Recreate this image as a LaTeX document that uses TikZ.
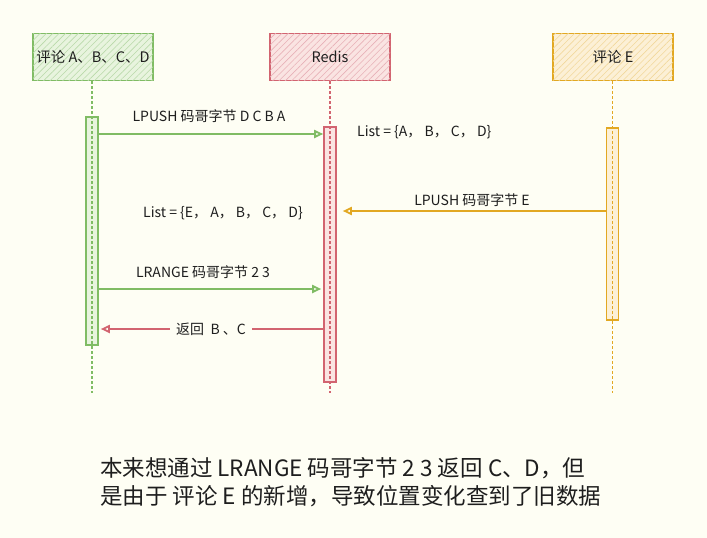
\documentclass[tikz,border=0pt]{standalone}
\usepackage{fontspec}
\setmainfont{Noto Sans CJK SC}
\usetikzlibrary{positioning,arrows.meta,patterns.meta}
\definecolor{BG}{RGB}{254,254,244}
\definecolor{Gb}{RGB}{128,188,100}
\definecolor{Gf}{RGB}{232,244,222}
\definecolor{Rb}{RGB}{210,100,112}
\definecolor{Rf}{RGB}{250,228,226}
\definecolor{Yb}{RGB}{226,168,34}
\definecolor{Yf}{RGB}{252,240,214}
\definecolor{Tx}{RGB}{30,30,30}

\begin{document}
\begin{tikzpicture}[x=1pt, y=-1pt,
  actor/.style = {
    rectangle, line width=1.8pt,
    minimum width=120pt, minimum height=47pt,
    text=Tx, font=\fontsize{14.5}{16}\selectfont
  },
  hatch/.style = {
    postaction={pattern={Lines[angle=45,distance=4.5pt,line width=0.6pt]},
                pattern color=#1}
  },
  actbar/.style = {
    rectangle, line width=1.6pt, minimum width=12pt, inner sep=0pt
  },
  life/.style = {line width=1.4pt, dash pattern=on 3pt off 2pt},
  msg/.style = {-{Triangle[open,length=9pt,width=8pt]}, line width=1.8pt},
  lbl/.style = {text=Tx, font=\fontsize{14}{16}\selectfont, inner sep=2pt}
]
\useasboundingbox[fill=BG] (0,0) rectangle (707,538);

%% ---------- Participants ----------
\node[actor, draw=Gb, fill=Gf, hatch=Gb!55] (cli)   at (93,57)  {评论 A、B、C、D};
\node[actor, draw=Rb, fill=Rf, hatch=Rb!50] (redis) at (330,57) {Redis};
\node[actor, draw=Yb, fill=Yf, hatch=Yb!45] (cliE)  at (613,57) {评论 E};

%% ---------- Activation bars ----------
\node[actbar, draw=Gb, fill=Gf, minimum height=228pt] (actA) at (92,231)    {};
\node[actbar, draw=Rb, fill=Rf, minimum height=255pt] (actR) at (330,254.5) {};
\node[actbar, draw=Yb, fill=Yf, minimum height=192pt] (actE) at (612.5,224) {};

%% ---------- Lifelines ----------
\coordinate (endA) at (92,393);
\coordinate (endR) at (330,393);
\coordinate (endE) at (612.5,393);
\draw[life, Gb] (cli.south -| endA)   -- (endA);
\draw[life, Rb] (redis.south -| endR) -- (endR);
\draw[life, Yb] (cliE.south -| endE)  -- (endE);

%% ---------- Messages ----------
\coordinate (m1) at (0,134);
\coordinate (m2) at (0,211);
\coordinate (m3) at (0,289);
\coordinate (m4) at (0,329);

\draw[msg, Gb] (actA.east |- m1) -- (actR.west |- m1);
\node[lbl] (l1) at (209,116) {LPUSH 码哥字节 D C B A};
\node[lbl, anchor=west] (s1) at (355,132) {List =\ \{A，\ B，\ C，\ D\}};

\draw[msg, Yb, shorten >=6pt] (actE.west |- m2) -- (actR.east |- m2);
\node[lbl] (l2) at (472,200) {LPUSH 码哥字节 E};
\node[lbl, anchor=west] (s2) at (141,213) {List =\ \{E，\ A，\ B，\ C，\ D\}};

\draw[msg, Gb, shorten >=2pt] (actA.east |- m3) -- (actR.west |- m3);
\node[lbl] (l3) at (203,272) {LRANGE 码哥字节 2 3};

\draw[msg, Rb, shorten >=2pt] (actR.west |- m4) -- (actA.east |- m4)
  node[lbl, midway, fill=BG, inner xsep=6pt] (l4) {返回\ \ B 、C};

%% ---------- Note ----------
\node[anchor=north west, align=left, text=Tx, inner sep=0pt,
      font=\fontsize{22.5}{28}\selectfont] (note) at (100,457)
  {本来想通过 LRANGE 码哥字节 2 3 返回 C、D，但\\
   是由于 评论 E 的新增，导致位置变化查到了旧数据};

\end{tikzpicture}
\end{document}
